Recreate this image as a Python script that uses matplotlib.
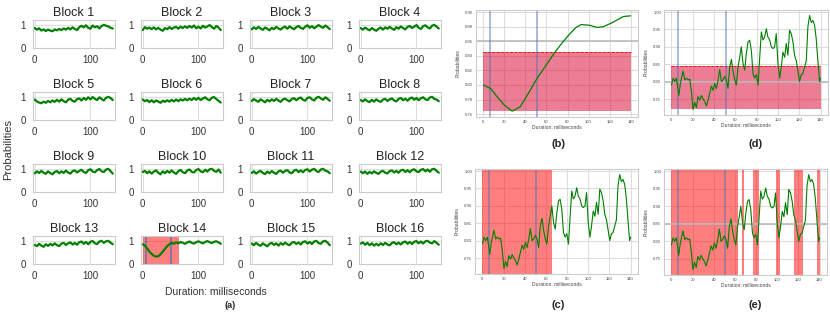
import numpy as np
import matplotlib.pyplot as plt
import seaborn as sns

sns.set_style('whitegrid')
plt.rcParams['font.family'] = ['Liberation Sans', 'DejaVu Sans']

W, H = 830, 317

def box(left, top, right, bottom):
    return [left / W, 1 - bottom / H, (right - left) / W, (bottom - top) / H]

# ---- data -------------------------------------------------------------
block_ms = [0, 4, 8, 12, 16, 20, 24, 28, 32, 36, 40, 44, 48, 52, 56, 60, 64, 68,
            72, 76, 80, 84, 88, 92, 96, 100, 104, 108, 112, 116, 120, 124, 128,
            132, 136, 140]

blocks = {
    1: [0.85, 0.78, 0.84, 0.74, 0.79, 0.72, 0.78, 0.74, 0.71, 0.79, 0.75, 0.81, 0.76, 0.83, 0.78, 0.86, 0.79, 0.88,
        0.81, 0.76, 0.89, 0.95, 0.88, 0.97, 0.86, 0.82, 0.96, 0.88, 0.93, 0.83, 0.94, 0.99, 0.95, 0.92, 0.86, 0.83],
    2: [0.76, 0.89, 0.82, 0.87, 0.80, 0.88, 0.79, 0.86, 0.78, 0.73, 0.85, 0.80, 0.89, 0.81, 0.87, 0.90, 0.82, 0.91,
        0.85, 0.92, 0.86, 0.94, 0.87, 0.96, 0.84, 0.91, 0.83, 0.95, 0.87, 0.92, 0.98, 0.89, 0.82, 0.94, 0.87, 0.76],
    3: [0.79, 0.88, 0.81, 0.90, 0.83, 0.77, 0.87, 0.82, 0.75, 0.86, 0.80, 0.90, 0.83, 0.78, 0.87, 0.91, 0.82, 0.92,
        0.85, 0.80, 0.89, 0.94, 0.86, 0.81, 0.91, 0.97, 0.86, 0.93, 0.84, 0.91, 0.98, 0.91, 0.86, 0.96, 0.89, 0.80],
    4: [0.85, 0.78, 0.87, 0.80, 0.75, 0.85, 0.78, 0.73, 0.82, 0.87, 0.78, 0.88, 0.82, 0.90, 0.83, 0.77, 0.89, 0.82,
        0.92, 0.85, 0.79, 0.90, 0.94, 0.85, 0.91, 0.98, 0.86, 0.81, 0.93, 0.97, 0.88, 0.83, 0.95, 0.99, 0.91, 0.83],
    5: [0.87, 0.79, 0.74, 0.71, 0.78, 0.73, 0.81, 0.75, 0.83, 0.77, 0.86, 0.78, 0.88, 0.80, 0.75, 0.87, 0.90, 0.81,
        0.78, 0.89, 0.92, 0.83, 0.94, 0.86, 0.97, 0.88, 0.98, 0.90, 0.85, 0.97, 0.89, 0.83, 0.95, 0.99, 0.94, 0.85],
    6: [0.87, 0.80, 0.85, 0.76, 0.84, 0.75, 0.83, 0.78, 0.73, 0.82, 0.77, 0.84, 0.78, 0.86, 0.79, 0.87, 0.80, 0.88,
        0.83, 0.90, 0.84, 0.91, 0.85, 0.94, 0.86, 0.95, 0.85, 0.92, 0.97, 0.88, 0.84, 0.95, 0.98, 0.89, 0.82, 0.74],
    7: [0.81, 0.89, 0.83, 0.77, 0.88, 0.82, 0.75, 0.86, 0.79, 0.88, 0.81, 0.90, 0.83, 0.77, 0.88, 0.91, 0.84, 0.79,
        0.90, 0.93, 0.84, 0.92, 0.96, 0.86, 0.82, 0.94, 0.97, 0.88, 0.83, 0.95, 0.99, 0.92, 0.86, 0.97, 0.90, 0.82],
    8: [0.85, 0.79, 0.88, 0.80, 0.76, 0.86, 0.78, 0.88, 0.81, 0.77, 0.87, 0.90, 0.81, 0.88, 0.92, 0.83, 0.79, 0.90,
        0.94, 0.84, 0.91, 0.82, 0.92, 0.96, 0.86, 0.94, 0.84, 0.93, 0.97, 0.88, 0.85, 0.96, 0.99, 0.90, 0.87, 0.80],
    9: [0.79, 0.88, 0.81, 0.90, 0.82, 0.77, 0.88, 0.80, 0.75, 0.86, 0.89, 0.80, 0.88, 0.81, 0.91, 0.83, 0.78, 0.89,
        0.92, 0.83, 0.90, 0.95, 0.85, 0.81, 0.93, 0.97, 0.87, 0.84, 0.94, 0.98, 0.88, 0.85, 0.96, 0.99, 0.89, 0.78],
    10: [0.85, 0.90, 0.80, 0.88, 0.78, 0.87, 0.92, 0.82, 0.75, 0.88, 0.80, 0.90, 0.82, 0.92, 0.83, 0.77, 0.89, 0.94,
         0.84, 0.80, 0.92, 0.96, 0.86, 0.83, 0.94, 0.98, 0.88, 0.84, 0.95, 0.87, 0.97, 0.99, 0.90, 0.86, 0.96, 0.82],
    11: [0.81, 0.88, 0.78, 0.86, 0.90, 0.81, 0.76, 0.87, 0.80, 0.89, 0.82, 0.77, 0.88, 0.91, 0.82, 0.90, 0.93, 0.83,
         0.80, 0.91, 0.95, 0.85, 0.92, 0.84, 0.94, 0.97, 0.87, 0.95, 0.99, 0.89, 0.85, 0.96, 0.99, 0.91, 0.88, 0.80],
    12: [0.87, 0.80, 0.87, 0.77, 0.86, 0.79, 0.88, 0.81, 0.77, 0.87, 0.90, 0.82, 0.79, 0.89, 0.92, 0.83, 0.90, 0.82,
         0.92, 0.95, 0.85, 0.93, 0.84, 0.94, 0.97, 0.88, 0.85, 0.95, 0.98, 0.88, 0.96, 0.86, 0.97, 0.99, 0.90, 0.82],
    13: [0.81, 0.76, 0.86, 0.78, 0.73, 0.84, 0.77, 0.86, 0.79, 0.88, 0.80, 0.76, 0.87, 0.90, 0.81, 0.88, 0.92, 0.83,
         0.90, 0.82, 0.93, 0.96, 0.86, 0.94, 0.84, 0.95, 0.98, 0.88, 0.85, 0.96, 0.99, 0.90, 0.97, 0.99, 0.91, 0.84],
    14: [0.84, 0.78, 0.66, 0.52, 0.42, 0.34, 0.30, 0.32, 0.40, 0.52, 0.64, 0.76, 0.84, 0.90, 0.86, 0.92, 0.88, 0.94,
         0.90, 0.86, 0.92, 0.96, 0.90, 0.87, 0.93, 0.97, 0.92, 0.88, 0.94, 0.98, 0.93, 0.89, 0.95, 0.97, 0.92, 0.86],
    15: [0.87, 0.80, 0.90, 0.82, 0.77, 0.88, 0.81, 0.75, 0.86, 0.90, 0.81, 0.88, 0.78, 0.89, 0.82, 0.91, 0.84, 0.80,
         0.91, 0.94, 0.85, 0.92, 0.83, 0.94, 0.97, 0.87, 0.94, 0.85, 0.96, 0.99, 0.89, 0.86, 0.97, 0.99, 0.91, 0.80],
    16: [0.87, 0.92, 0.82, 0.90, 0.80, 0.88, 0.78, 0.86, 0.79, 0.88, 0.81, 0.90, 0.83, 0.79, 0.90, 0.93, 0.84, 0.91,
         0.83, 0.93, 0.96, 0.86, 0.94, 0.85, 0.95, 0.98, 0.88, 0.96, 0.87, 0.97, 0.99, 0.91, 0.88, 0.98, 0.90, 0.82],
}

# detail curve used in (c), (d), (e)
detail_ms = [0, 1.6, 3.1, 4.7, 6.9, 8.4, 10.9, 12.5, 14.1, 15.6, 17.2, 18.8, 20.3, 21.9, 23.4, 25, 26.6,
             28.1, 29.7, 31.3, 32.8, 34.4, 35.9, 37.5, 39.1, 40.6, 42.2, 43.8, 45.3, 46.9, 48.4, 50,
             51.6, 53.1, 54.7, 56.3, 57.8, 59.4, 60.9, 62.5, 64.1, 65.6, 67.2, 68.8, 70.3, 71.9, 73.4,
             75, 76.6, 78.1, 79.7, 81.3, 82.8, 84.4, 85.9, 87.5, 89.1, 90.6, 92.2, 93.8, 95.3, 96.9,
             98.4, 100, 101.6, 103.1, 104.7, 106.3, 107.8, 109.4, 110.9, 112.5, 114.1, 115.6, 117.2,
             118.8, 120.3, 121.9, 123.4, 125, 126.6, 128.1, 129.7, 131.3, 132.8, 134.4, 135.9, 137.5,
             139.1, 140]
detail_prob = [0.79, 0.81, 0.80, 0.81, 0.76, 0.795, 0.83, 0.805, 0.81, 0.805, 0.807, 0.77, 0.72, 0.74,
               0.725, 0.757, 0.747, 0.76, 0.75, 0.742, 0.73, 0.747, 0.766, 0.787, 0.775, 0.795, 0.78,
               0.805, 0.835, 0.80, 0.805, 0.815, 0.805, 0.78, 0.842, 0.864, 0.83, 0.805, 0.79, 0.842,
               0.87, 0.90, 0.852, 0.833, 0.88, 0.914, 0.919, 0.89, 0.823, 0.81, 0.82, 0.79, 0.866,
               0.943, 0.92, 0.928, 0.952, 0.928, 0.92, 0.90, 0.895, 0.90, 0.938, 0.852, 0.81, 0.842,
               0.885, 0.87, 0.91, 0.876, 0.948, 0.938, 0.914, 0.876, 0.86, 0.83, 0.80, 0.82, 0.823,
               0.842, 0.86, 0.957, 0.99, 0.97, 0.976, 0.962, 0.924, 0.86, 0.80, 0.81]

# smooth fitted curve used in (b)
smooth_ms = [0, 7, 13, 19.5, 27.4, 35, 43, 51, 60, 68, 75, 82, 88, 93, 101, 108, 114, 123, 133, 140]
smooth_prob = [0.80, 0.795, 0.784, 0.773, 0.764, 0.77, 0.789, 0.809, 0.828, 0.845, 0.858, 0.870,
               0.879, 0.883, 0.882, 0.879, 0.880, 0.886, 0.894, 0.895]

threshold = 0.845
onset_ms = [6, 51]
span_c = [(0, 66)]
spans_e = [(0, 63), (67, 69), (77, 83), (99, 103), (116, 124), (137.5, 140)]

# ---- figure -----------------------------------------------------------
fig = plt.figure(figsize=(W / 100, H / 100), dpi=100)

col_left = [33, 141, 250, 359]
row_top = [20, 92, 164, 236]
for i in range(16):
    r, c = divmod(i, 4)
    ax = fig.add_axes(box(col_left[c], row_top[r], col_left[c] + 82, row_top[r] + 28))
    n = i + 1
    if n == 14:
        ax.axvspan(0, 65, color='red', alpha=0.5, lw=0)
        for t in onset_ms:
            ax.axvline(t, color='#4c72b0', lw=1.2, alpha=0.8)
    ax.plot(block_ms, blocks[n], color='green', lw=1.6)
    ax.set_xlim(-3, 144)
    ax.set_ylim(-0.02, 1.2)
    ax.set_xticks([0, 100])
    ax.set_yticks([0, 1])
    ax.tick_params(labelsize=7, colors='#333333', pad=5, length=0)
    ax.set_title('Block %d' % n, fontsize=9, pad=3, color='#222222')
    for s in ax.spines.values():
        s.set_color('#cccccc')
        s.set_linewidth(0.8)
    ax.grid(color='#dddddd', lw=0.7)

fig.text(8 / W, 1 - 150 / H, 'Probabilities', rotation=90, ha='center', va='center',
         fontsize=8, color='#333333')
fig.text(216 / W, 1 - 292 / H, 'Duration: milliseconds', ha='center', va='center',
         fontsize=7.5, color='#333333')
fig.text(230 / W, 1 - 305 / H, '(a)', ha='center', va='center', fontsize=6.5, weight='bold')


def style_panel(ax, yticks, ylim):
    ax.set_xlim(-7, 147)
    ax.set_ylim(*ylim)
    ax.set_xticks(range(0, 141, 20))
    ax.set_yticks(yticks)
    ax.set_yticklabels(['%.2f' % v for v in yticks])
    ax.tick_params(labelsize=3, colors='#444444', pad=2, length=0)
    ax.set_xlabel('Duration: milliseconds', fontsize=3.6, labelpad=1, color='#444444')
    ax.set_ylabel('Probabilities', fontsize=3.6, labelpad=3, color='#444444')
    for s in ax.spines.values():
        s.set_color('#cccccc')
        s.set_linewidth(0.8)
    ax.grid(color='#dddddd', lw=0.8)


# (b)
ax_b = fig.add_axes(box(476, 10, 638, 117))
ax_b.axhline(0.86, color='#bbbbbb', lw=1.2)
ax_b.fill_between([0, 140], min(smooth_prob), threshold, color='crimson', alpha=0.55, lw=0)
ax_b.hlines(threshold, 0, 140, colors='red', linestyles='--', lw=0.6)
for t in onset_ms:
    ax_b.axvline(t, color='#4c72b0', lw=1.1, alpha=0.6)
ax_b.plot(smooth_ms, smooth_prob, color='green', lw=0.9)
style_panel(ax_b, [0.76, 0.78, 0.80, 0.82, 0.84, 0.86, 0.88, 0.90], (0.756, 0.903))

# (d)
ax_d = fig.add_axes(box(664, 10, 828, 115))
ax_d.axhline(0.80, color='#bbbbbb', lw=1.2)
ax_d.fill_between([0, 140], min(detail_prob), threshold, color='crimson', alpha=0.55, lw=0)
ax_d.hlines(threshold, 0, 140, colors='red', linestyles='--', lw=0.6)
for t in onset_ms:
    ax_d.axvline(t, color='#4c72b0', lw=1.1, alpha=0.6)
ax_d.plot(detail_ms, detail_prob, color='green', lw=0.8)
style_panel(ax_d, [0.75, 0.80, 0.85, 0.90, 0.95, 1.00], (0.704, 1.006))

# (c)
ax_c = fig.add_axes(box(475, 169, 638, 274))
for a, b in span_c:
    ax_c.axvspan(a, b, color='red', alpha=0.5, lw=0)
for t in onset_ms:
    ax_c.axvline(t, color='#4c72b0', lw=1.1, alpha=0.6)
ax_c.plot(detail_ms, detail_prob, color='green', lw=0.8)
style_panel(ax_c, [0.75, 0.80, 0.85, 0.90, 0.95, 1.00], (0.704, 1.006))

# (e)
ax_e = fig.add_axes(box(664, 169, 827, 275))
ax_e.axhline(0.85, color='#bbbbbb', lw=1.2)
for a, b in spans_e:
    ax_e.axvspan(a, b, color='red', alpha=0.5, lw=0)
for t in onset_ms:
    ax_e.axvline(t, color='#4c72b0', lw=1.1, alpha=0.6)
ax_e.plot(detail_ms, detail_prob, color='green', lw=0.8)
style_panel(ax_e, [0.75, 0.80, 0.85, 0.90, 0.95, 1.00], (0.704, 1.006))

for lab, x, y in [('(b)', 558, 144), ('(d)', 756, 144), ('(c)', 558, 305), ('(e)', 755, 305)]:
    fig.text(x / W, 1 - y / H, lab, ha='center', va='center', fontsize=8, weight='bold')

fig.savefig('out.png', dpi=100)
